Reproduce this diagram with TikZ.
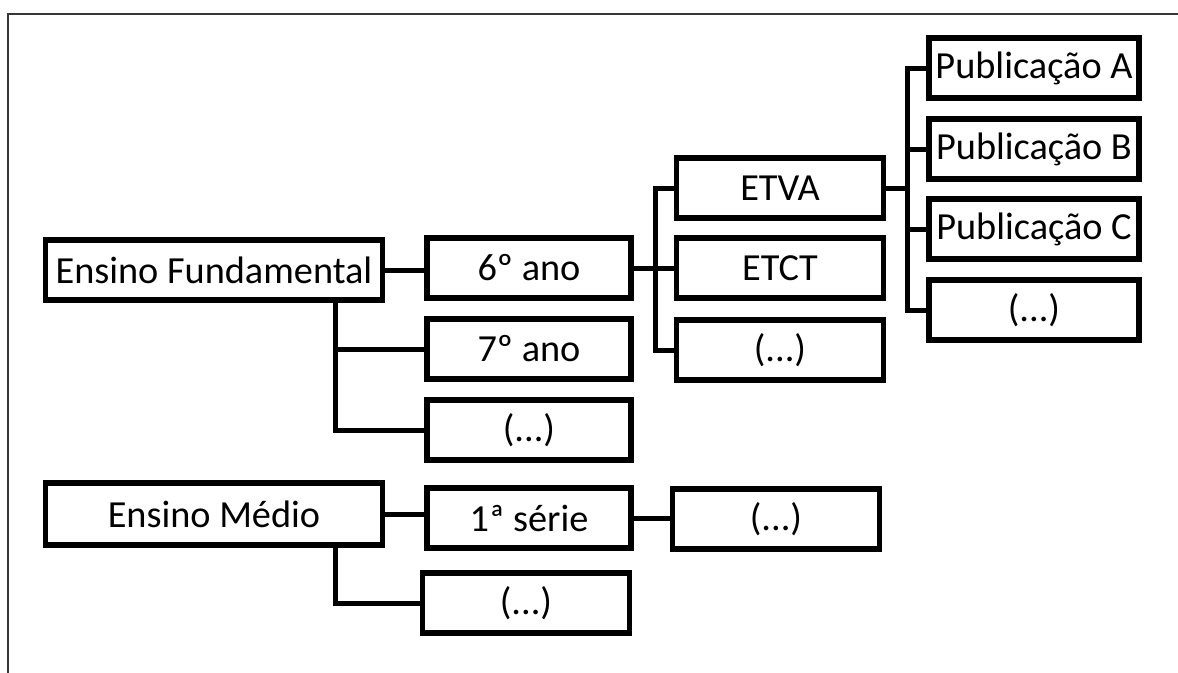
\documentclass[tikz,border=0pt]{standalone}
\usepackage{fontspec}
\setmainfont{Carlito}
\usepackage{tikz}
\usetikzlibrary{positioning, calc}
\tikzstyle{levelbox} = [
  rectangle, draw=black, line width=0.105cm, fill=white,
  minimum height=1.2cm, inner sep=2pt,
  font=\fontsize{21.8}{26}\selectfont, text centered
]
\tikzstyle{stagebox} = [levelbox, minimum width=6.74cm]
\tikzstyle{yearbox}  = [levelbox, minimum width=4.08cm]
\tikzstyle{themebox} = [levelbox, minimum width=4.14cm]
\tikzstyle{pubbox}   = [levelbox, minimum width=4.2cm]
\tikzstyle{link} = [line width=0.1cm, color=black]
\tikzstyle{frame} = [line width=0.045cm, color=darkgray!80!black]
\definecolor{darkgray}{HTML}{444444}

\begin{document}
\begin{tikzpicture}[x=0.02cm, y=-0.02cm]

  \useasboundingbox (0,0) rectangle (1178,673);

  % ── Frame ─────────────────────────────────────────────
  \draw[frame] (1178,14) -| (8,673);

  % ── Stages ────────────────────────────────────────────
  \node[stagebox] (ensfund) at (214,270) {Ensino Fundamental};
  \node[stagebox, minimum height=1.24cm] (ensmed) at (214,514) {Ensino Médio};

  % ── Years ─────────────────────────────────────────────
  \node[yearbox] (ano6)   at (529,268) {6º ano};
  \node[yearbox] (ano7)   at (529,349) {7º ano};
  \node[yearbox] (etcano) at (529,430) {(...)};
  \node[yearbox] (serie1) at (529,518) {1ª série};
  \node[yearbox, minimum width=4.14cm] (etcserie) at (526,603) {(...)};

  % ── Themes ────────────────────────────────────────────
  \node[themebox] (etva)     at (780,188) {ETVA};
  \node[themebox] (etct)     at (780,268) {ETCT};
  \node[themebox] (etctema)  at (780,350) {(...)};
  \node[themebox] (etcmedio) at (776,519) {(...)};

  % ── Publications ──────────────────────────────────────
  \node[pubbox] (puba)   at (1034,68)  {Publicação A};
  \node[pubbox] (pubb)   at (1034,149) {Publicação B};
  \node[pubbox] (pubc)   at (1034,229) {Publicação C};
  \node[pubbox] (etcpub) at (1034,310) {(...)};

  % ── Joints ────────────────────────────────────────────
  \coordinate (efjoint)   at ([xshift=-1.0cm]ensfund.south east);
  \coordinate (emjoint)   at ([xshift=-1.0cm]ensmed.south east);
  \coordinate (anojoint)  at ([xshift=0.44cm]ano6.east);
  \coordinate (etvajoint) at ([xshift=0.42cm]etva.east);

  % ── Connectors ────────────────────────────────────────
  \draw[link] (ensfund.east) -- (ensfund.east -| ano6.west);
  \draw[link] (efjoint) |- (ano7.west);
  \draw[link] (efjoint) |- (etcano.west);

  \draw[link] (ensmed.east) -- (ensmed.east -| serie1.west);
  \draw[link] (emjoint) |- (etcserie.west);
  \draw[link] (serie1.east) -- (serie1.east -| etcmedio.west);

  \draw[link] (ano6.east) -- (etct.west);
  \draw[link] (anojoint) |- (etva.west);
  \draw[link] (anojoint) |- (etctema.west);

  \draw[link] (etva.east) -- (etvajoint);
  \draw[link] (etvajoint) |- (puba.west);
  \draw[link] (etvajoint) |- (pubb.west);
  \draw[link] (etvajoint) |- (pubc.west);
  \draw[link] (etvajoint) |- (etcpub.west);

\end{tikzpicture}
\end{document}
